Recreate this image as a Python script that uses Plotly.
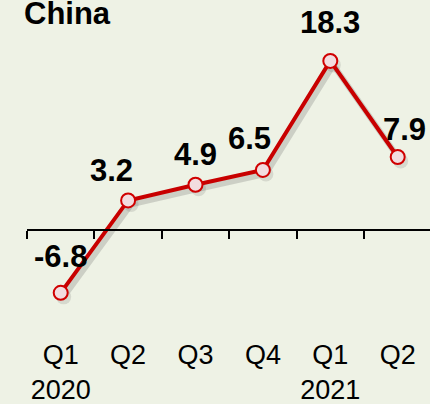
import plotly.graph_objects as go

quarters = ["Q1", "Q2", "Q3", "Q4", "Q1", "Q2"]
years = ["2020", "", "", "", "2021", ""]
values = [-6.8, 3.2, 4.9, 6.5, 18.3, 7.9]
value_labels = ["-6.8", "3.2", "4.9", "6.5", "18.3", "7.9"]
title_text = "China"

# label offsets (px) - styling only
label_xshift = [0, -17, 0, -13, 0, 7]
label_yshift = [36, 30, 30, 31, 38, 28]

n = len(values)
idx = list(range(n))
ticktext = [q + "<br>" + y if y else q + "<br> " for q, y in zip(quarters, years)]

FONT = "Liberation Sans, Arial, sans-serif"
W, H = 430, 404
ml, mr, mt, mb = 27, 0, 0, 68
px_per_cat = 67.4
px_per_unit = 9.24
plot_w = W - ml - mr
plot_h = H - mt - mb
x_range = [-0.5, -0.5 + plot_w / px_per_cat]
zero_px_from_top = 230 - mt
y_top = zero_px_from_top / px_per_unit
y_bot = y_top - plot_h / px_per_unit
y_range = [y_bot, y_top]
zero_pos = (0 - y_bot) / (y_top - y_bot)

# shadow offsets in px
sdx, sdy = 3, 4
x3_range = [x_range[0] - sdx / px_per_cat, x_range[1] - sdx / px_per_cat]
y2_range = [y_range[0] + sdy / px_per_unit, y_range[1] + sdy / px_per_unit]

fig = go.Figure()

# invisible trace to anchor tick-line axis
fig.add_trace(go.Scatter(
    x=idx, y=values, xaxis="x2", yaxis="y", mode="markers",
    marker=dict(size=1, opacity=0), hoverinfo="skip", showlegend=False,
))

# soft shadow
fig.add_trace(go.Scatter(
    x=idx, y=values, xaxis="x3", yaxis="y2", mode="lines+markers",
    line=dict(color="rgba(70,70,70,0.20)", width=6),
    marker=dict(size=15, color="rgba(70,70,70,0.14)", line=dict(width=0)),
    hoverinfo="skip", showlegend=False, cliponaxis=False,
))

# main series
fig.add_trace(go.Scatter(
    x=idx, y=values, xaxis="x4", yaxis="y3", mode="lines+markers",
    line=dict(color="#c80000", width=4),
    marker=dict(size=14, color="#f2dcdf", line=dict(color="#d00000", width=2)),
    showlegend=False, cliponaxis=False,
))

for i, (v, t) in enumerate(zip(values, value_labels)):
    fig.add_annotation(
        x=i, y=v, xref="x", yref="y", text="<b>" + t + "</b>", showarrow=False,
        xshift=label_xshift[i], yshift=label_yshift[i],
        font=dict(family=FONT, size=31, color="#000000"),
    )

fig.update_layout(
    width=W, height=H,
    margin=dict(l=ml, r=mr, t=mt, b=mb, autoexpand=False),
    paper_bgcolor="#eef2e5", plot_bgcolor="rgba(0,0,0,0)",
    showlegend=False,
    title=dict(text="<b>" + title_text + "</b>", x=24 / W, xanchor="left",
               y=1 - 13 / H, yanchor="middle", yref="container", automargin=False,
               font=dict(family=FONT, size=31, color="#000000")),
    xaxis=dict(range=x_range, tickmode="array", tickvals=idx, ticktext=ticktext,
               showgrid=False, zeroline=False, showline=False, ticks="", automargin=False,
               tickfont=dict(family=FONT, size=27, color="#000000")),
    xaxis2=dict(range=x_range, overlaying="x", anchor="free", position=zero_pos, side="bottom",
                tickmode="array", tickvals=[i - 0.5 for i in range(n + 1)], automargin=False,
                showticklabels=False, ticks="outside", ticklen=8, tickwidth=2, tickcolor="#000000",
                showline=True, linecolor="#000000", linewidth=2, showgrid=False, zeroline=False),
    xaxis3=dict(range=x3_range, overlaying="x", visible=False, automargin=False),
    xaxis4=dict(range=x_range, overlaying="x", visible=False, automargin=False),
    yaxis=dict(range=y_range, visible=False, showgrid=False, zeroline=False, automargin=False),
    yaxis2=dict(range=y2_range, overlaying="y", visible=False, automargin=False),
    yaxis3=dict(range=y_range, overlaying="y", visible=False, automargin=False),
)

fig.write_html("out.html")
